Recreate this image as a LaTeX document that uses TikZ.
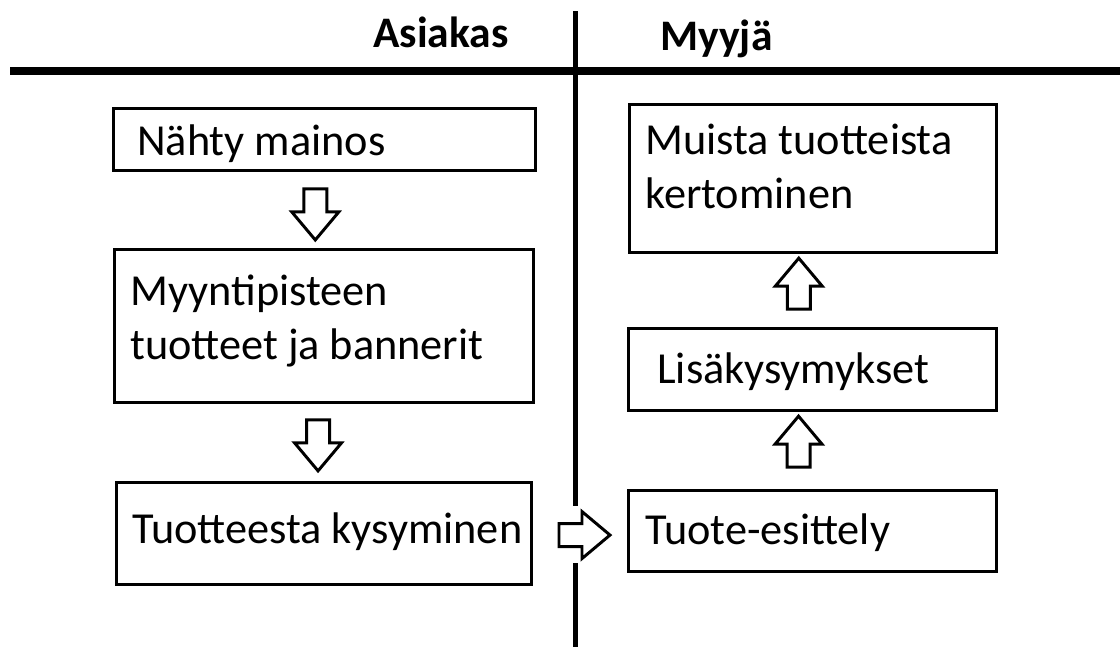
\documentclass[tikz,border=0pt]{standalone}
\usepackage{fontspec}
\setmainfont{Carlito}
\usetikzlibrary{shapes.arrows,calc}

\tikzset{
	box/.style={draw, line width=2.1pt, outer sep=0pt, inner sep=0pt, anchor=north west},
	txt/.style={inner sep=0pt, anchor=base west, align=left, font=\fontsize{31.5}{38.4}\selectfont},
	head/.style={inner sep=0pt, anchor=base west, font=\fontsize{31}{38.4}\selectfont\bfseries},
	blockarrow/.style={single arrow, draw, line width=2.1pt, fill=white, inner sep=0.25cm,
		minimum width=0pt, minimum height=1.275cm, single arrow head extend=0.3cm,
		single arrow tip angle=80, single arrow head indent=0pt}
}

\begin{document}
\begin{tikzpicture}[x=0.025cm, y=-0.025cm, line cap=butt, line join=miter]
	
	\useasboundingbox (0,0) rectangle (1120,647);
	
	% Otsikot
	\node[head] (asiakas) at (373,47) {Asiakas};
	\node[head] (myyja) at (660,50) {Myyjä};
	
	% Jakoviivat
	\draw[line width=5.7pt] (10,71) -- (1120,71);
	\draw[line width=3.6pt] (575.5,11) -- (575.5,506);
	\draw[line width=3.6pt] (575.5,563) -- (575.5,647);
	
	% Asiakkaan laatikot
	\node[box, minimum width=10.55cm, minimum height=1.55cm] (mainos) at (113.5,108.5) {};
	\node[box, minimum width=10.475cm, minimum height=3.825cm] (myynti) at (114.5,249.5) {};
	\node[box, minimum width=10.375cm, minimum height=2.55cm] (kysyminen) at (116.5,482.5) {};
	
	% (base = viimeisen rivin perusviiva)
	\node[txt] (mainos-t) at (137,155) {Nähty mainos};
	\node[txt] (myynti-t) at (130,359) {Myyntipisteen\\tuotteet ja bannerit};
	\node[txt] (kysyminen-t) at (132,543) {Tuotteesta kysyminen};
	
	% Myyjän laatikot
	\node[box, minimum width=9.175cm, minimum height=3.7cm] (kertominen) at (629.5,104.5) {};
	\node[box, minimum width=9.2cm, minimum height=2.05cm] (lisa) at (628.5,328.5) {};
	\node[box, minimum width=9.2cm, minimum height=2.025cm] (esittely) at (628.5,490.5) {};
	
	\node[txt] (kertominen-t) at (645,208) {Muista tuotteista\\kertominen};
	\node[txt] (lisa-t) at (657,383) {Lisäkysymykset};
	\node[txt] (esittely-t) at (645,544) {Tuote-esittely};
	
	% Nuolet
	\node[blockarrow, shape border rotate=270, xshift=-0.225cm, yshift=0.06cm] (n1)
		at ($(mainos.south)!0.5!(myynti.north)$) {};
	\node[blockarrow, shape border rotate=270, xshift=-0.15cm, yshift=0.1cm] (n2)
		at ($(myynti.south)!0.5!(kysyminen.north)$) {};
	\node[blockarrow, shape border rotate=0, xshift=-0.06cm, yshift=-0.07cm] (n3)
		at ($(kysyminen.east)!0.5!(esittely.west)$) {};
	\node[blockarrow, shape border rotate=90, xshift=-0.35cm, yshift=0.05cm] (n4)
		at ($(esittely.north)!0.5!(lisa.south)$) {};
	\node[blockarrow, shape border rotate=90, xshift=-0.35cm] (n5)
		at ($(lisa.north)!0.5!(kertominen.south)$) {};
	
\end{tikzpicture}
\end{document}
